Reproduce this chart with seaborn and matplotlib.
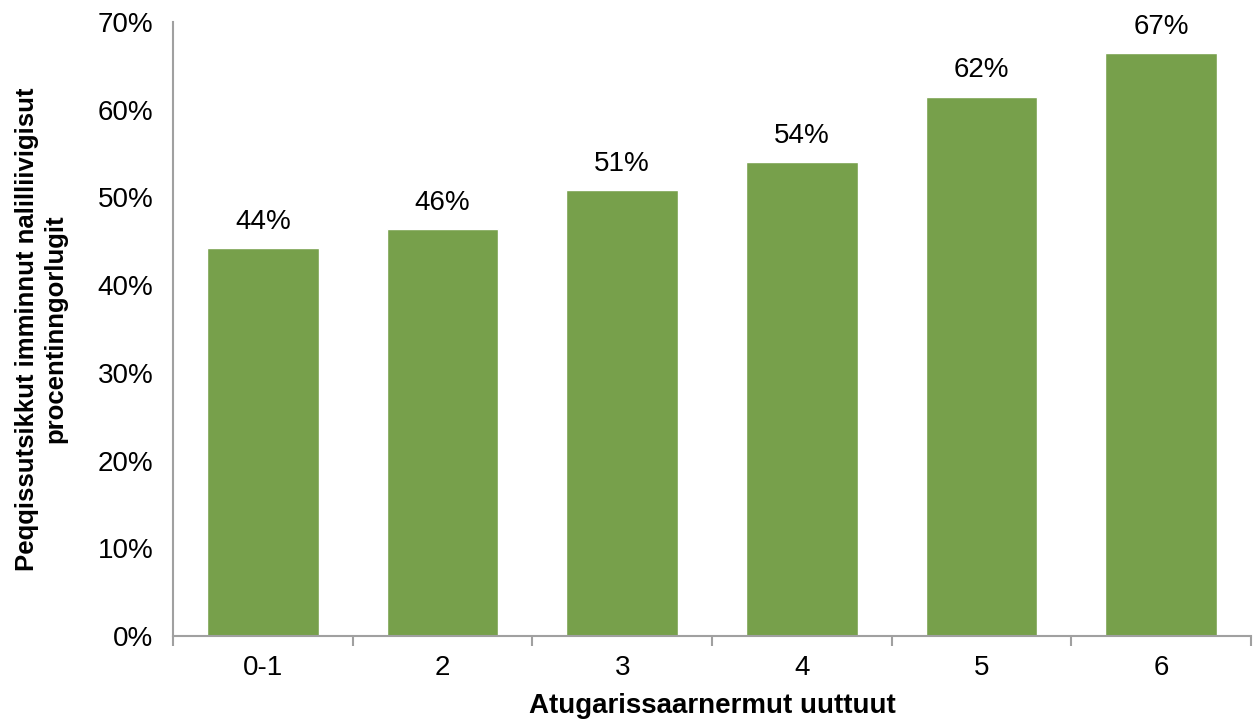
import numpy as np
import matplotlib.pyplot as plt
import seaborn as sns
import pandas as pd
from matplotlib.ticker import PercentFormatter, FixedLocator

categories = ['0-1', '2', '3', '4', '5', '6']
values = [44.2, 46.4, 50.8, 54.0, 61.5, 66.5]
labels = ['44%', '46%', '51%', '54%', '62%', '67%']

sns.set_style('white')
plt.rcParams['font.family'] = ['Liberation Sans', 'DejaVu Sans']
plt.rcParams['text.color'] = 'black'
plt.rcParams['axes.labelcolor'] = 'black'

fig = plt.figure(figsize=(12.53, 7.22), dpi=100)
ax = fig.add_axes([173/1253, 1 - 636/722, (1251-173)/1253, (636-22)/722])

df = pd.DataFrame({'cat': categories, 'val': values})
sns.barplot(data=df, x='cat', y='val', color='#77A04B', saturation=1,
            width=0.62, ax=ax)

for i, (v, lab) in enumerate(zip(values, labels)):
    ax.text(i, v + 1.5, lab, ha='center', va='bottom', fontsize=20, color='black')

ax.set_ylim(0, 70)
ax.set_xlim(-0.5, len(categories) - 0.5)
ax.set_yticks(np.arange(0, 71, 10))
ax.yaxis.set_major_formatter(PercentFormatter(decimals=0))

for s in ['top', 'right']:
    ax.spines[s].set_visible(False)
for s in ['left', 'bottom']:
    ax.spines[s].set_color('#A0A0A0')
    ax.spines[s].set_linewidth(1.5)

ax.tick_params(axis='y', left=False, length=0, labelsize=20, pad=14, labelcolor='black')
ax.tick_params(axis='x', which='major', length=0, labelsize=20, pad=14, labelcolor='black')
ax.xaxis.set_minor_locator(FixedLocator(np.arange(-0.5, len(categories), 1)))
ax.tick_params(axis='x', which='minor', bottom=True, length=7, width=1.5, color='#A0A0A0')

ax.set_xlabel('Atugarissaarnermut uuttuut', fontsize=20, weight='bold', labelpad=8)
ax.set_ylabel('Peqqissutsikkut imminnut nalilliivigisut\nprocentinngorlugit',
              fontsize=18.5, weight='bold', labelpad=22)

fig.savefig('out.png', dpi=100)
